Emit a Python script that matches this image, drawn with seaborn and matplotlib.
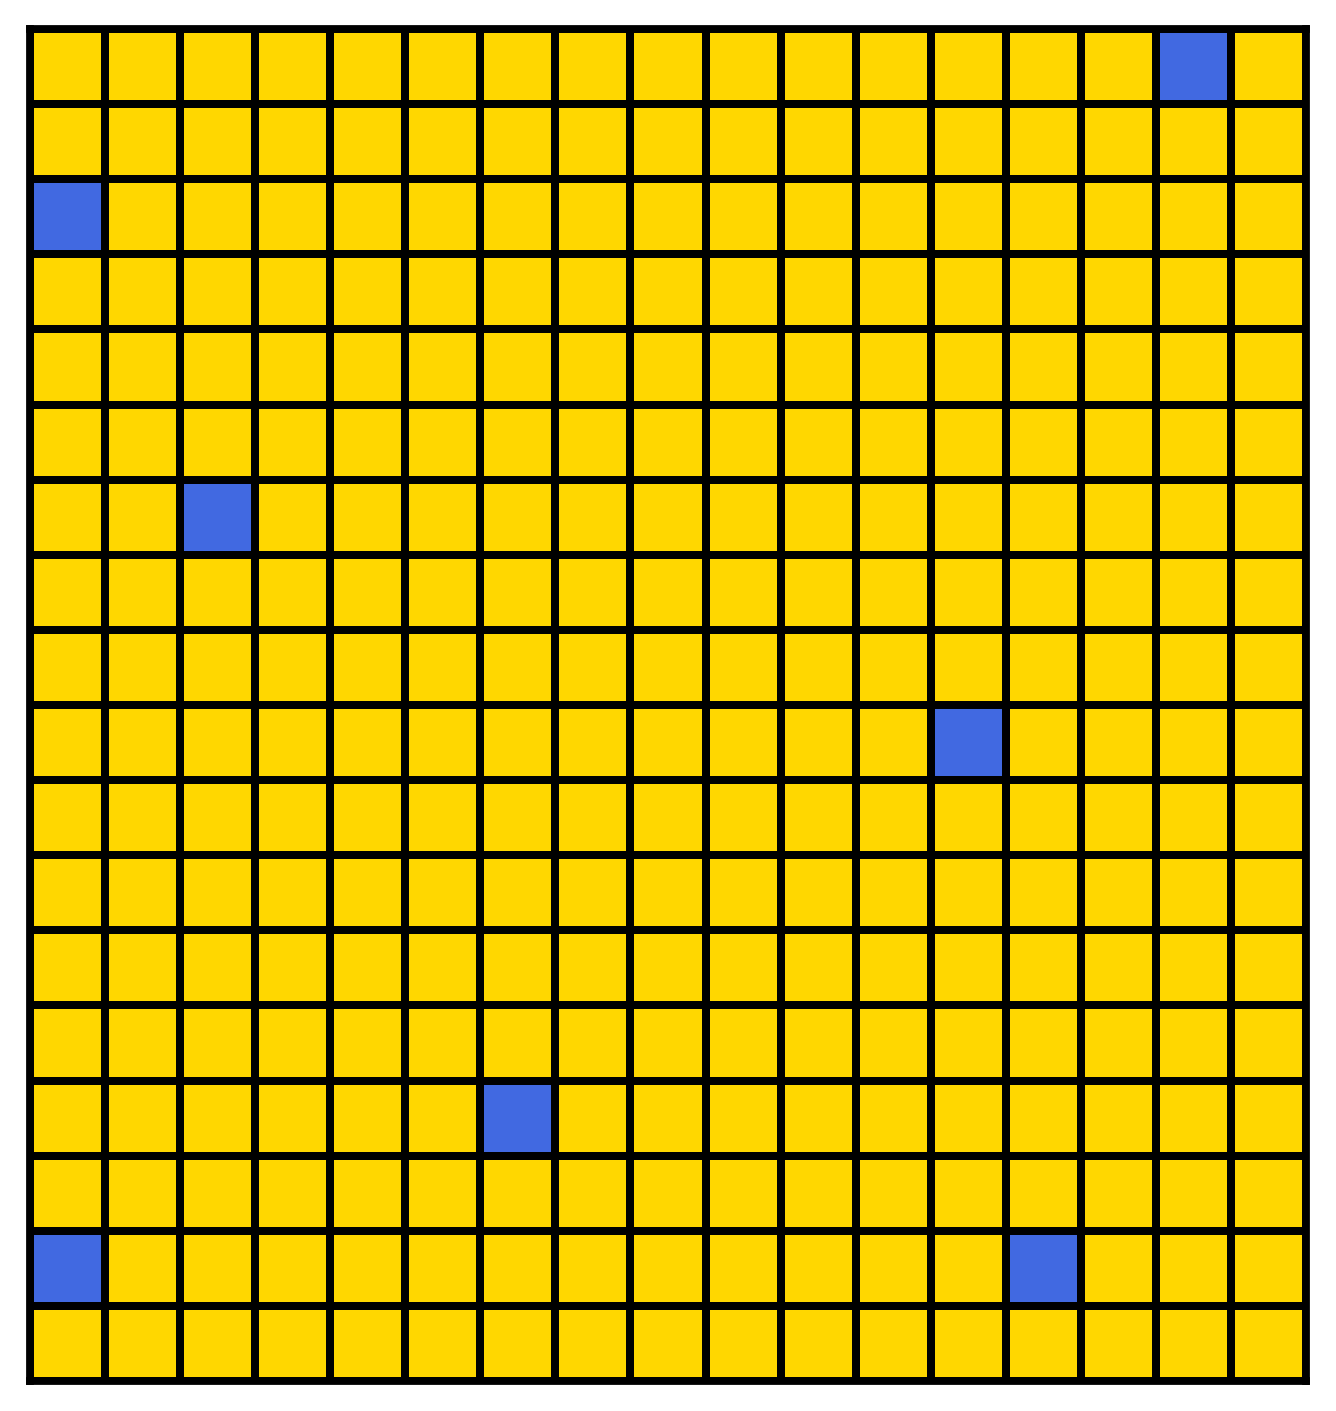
import numpy as np
import matplotlib
matplotlib.use("Agg")
import matplotlib.pyplot as plt
from matplotlib.colors import ListedColormap
import seaborn as sns

# grid size and the few blue cells (row, col)
n_rows = 18
n_cols = 17
blue_rows = [0, 2, 6, 9, 14, 16, 16]
blue_cols = [15, 0, 2, 12, 6, 0, 13]

grid = np.zeros((n_rows, n_cols))
for r, c in zip(blue_rows, blue_cols):
    grid[r, c] = 1

cmap = ListedColormap(["#FFD700", "#4169E1"])

fig = plt.figure(figsize=(13.36, 14.11), dpi=100)
ax = fig.add_axes([30 / 1336, 30 / 1411, 1276 / 1336, 1352 / 1411])
sns.heatmap(grid, cmap=cmap, vmin=0, vmax=1, cbar=False,
            linewidths=5.6, linecolor="black", ax=ax,
            xticklabels=False, yticklabels=False)
for spine in ax.spines.values():
    spine.set_visible(True)
    spine.set_color("black")
    spine.set_linewidth(5.6)
ax.tick_params(left=False, bottom=False)

fig.savefig("out.png", dpi=100)
